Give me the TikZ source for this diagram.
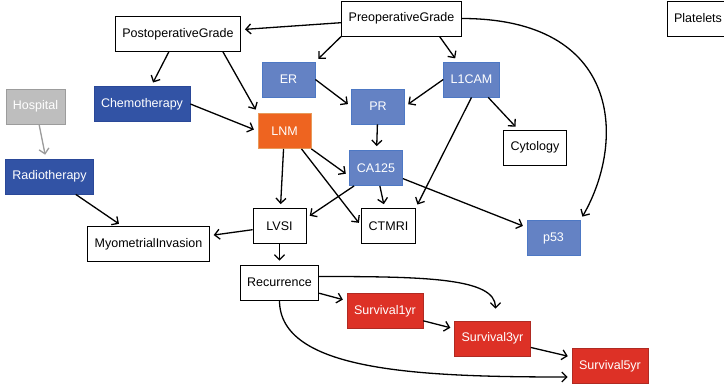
\documentclass[tikz,border=0pt]{standalone}
\usepackage{fontspec}
\setmainfont{Liberation Sans}
\usetikzlibrary{positioning,arrows.meta}

\definecolor{markerfill}{HTML}{6482C4}
\definecolor{markerline}{HTML}{4D78C4}
\definecolor{therapyfill}{HTML}{3253A5}
\definecolor{therapyline}{HTML}{2A4898}
\definecolor{lnmfill}{HTML}{EE6420}
\definecolor{lnmline}{HTML}{E89A5A}
\definecolor{survfill}{HTML}{DD3126}
\definecolor{survline}{HTML}{B02A22}
\definecolor{hospfill}{HTML}{BEBEBE}
\definecolor{hospline}{HTML}{9C9C9C}

\begin{document}
\begin{tikzpicture}[>={Straight Barb[length=5pt,width=10pt]},on grid,line width=1.3pt]
	\tikzstyle{var}=[rectangle,draw=black,line width=0.8pt,fill=white,minimum width=53pt,minimum height=35pt,inner xsep=7pt,font=\fontsize{12.5}{15}\selectfont]
	\tikzstyle{marker}=[var,draw=markerline,fill=markerfill,text=white]
	\tikzstyle{therapy}=[var,draw=therapyline,fill=therapyfill,text=white]
	\tikzstyle{lnm}=[var,draw=lnmline,fill=lnmfill,text=white]
	\tikzstyle{survival}=[var,draw=survline,fill=survfill,text=white]
	\tikzstyle{hosp}=[var,draw=hospline,fill=hospfill,text=white]

	\useasboundingbox (0,0) rectangle (724pt,-386pt);

	\node[var] (PRE) at (401.5pt,-18.5pt) {PreoperativeGrade};
	\node[var] (POST) [below left=15.5pt and 223.5pt of PRE] {PostoperativeGrade};
	\node[var] (PLAT) [right=296.5pt of PRE] {Platelets};
	\node[marker] (ER) [below left=61pt and 113pt of PRE] {ER};
	\node[marker] (L1CAM) [right=183pt of ER] {L1CAM};
	\node[marker] (PR) [below right=27pt and 89.5pt of ER] {PR};
	\node[therapy] (CHEMO) [below left=70pt and 36pt of POST] {Chemotherapy};
	\node[hosp] (HOSP) [below left=2.5pt and 106.5pt of CHEMO] {Hospital};
	\node[lnm] (LNM) [below left=51.5pt and 4pt of ER] {LNM};
	\node[var] (CYTO) [below right=68pt and 63.5pt of L1CAM] {Cytology};
	\node[marker] (CA125) [below left=61.5pt and 2pt of PR] {CA125};
	\node[therapy] (RADIO) [below right=70pt and 14pt of HOSP] {Radiotherapy};
	\node[var] (LVSI) [below left=95pt and 5pt of LNM] {LVSI};
	\node[var] (MYO) [below left=18pt and 131pt of LVSI] {MyometrialInvasion};
	\node[var] (CTMRI) [right=109pt of LVSI] {CTMRI};
	\node[marker] (P53) [below right=12pt and 165pt of CTMRI] {p53};
	\node[var] (REC) [below=56.5pt of LVSI] {Recurrence};
	\node[survival] (S1) [below right=28.5pt and 105.5pt of REC] {Survival1yr};
	\node[survival] (S3) [below right=27.5pt and 107.5pt of S1] {Survival3yr};
	\node[survival] (S5) [below right=27.5pt and 117.5pt of S3] {Survival5yr};

	\path[->,shorten >=4pt]
		(PRE) edge (POST)
		(PRE.south west) edge (ER.north east)
		([xshift=38pt]PRE.south) edge ([xshift=-14pt]L1CAM.north)
		(PRE) edge[out=0,in=60,out looseness=1.75,in looseness=1] (P53.north east)
		(POST) edge (CHEMO)
		([xshift=45pt]POST.south) edge (LNM.north west)
		(CHEMO.east) edge (LNM.west)
		(ER.east) edge (PR.west)
		(L1CAM.west) edge (PR.east)
		(L1CAM) edge (CYTO)
		(L1CAM.south) edge (CTMRI.north east)
		(PR) edge (CA125)
		(LNM.south east) edge ([yshift=-8pt]CA125.west)
		(LNM) edge (LVSI)
		([xshift=17pt]LNM.south) edge (CTMRI.west)
		([xshift=5pt]CA125.south west) edge ([yshift=8pt]LVSI.east)
		(CA125) edge (CTMRI)
		(CA125) edge (P53)
		(RADIO) edge (MYO)
		(LVSI) edge (MYO)
		(LVSI) edge (REC)
		(REC) edge (S1)
		([yshift=6pt]REC.east) edge[out=0,in=90,out looseness=1.5,in looseness=0.6,shorten >=12pt] ([xshift=3pt]S3.north)
		(REC) edge[out=-90,in=180,out looseness=0.6,in looseness=1.3] ([yshift=-11pt]S5.west)
		(S1) edge (S3)
		(S3) edge (S5);
	\path[->,shorten >=4pt,draw=hospline] (HOSP) edge (RADIO);

\end{tikzpicture}
\end{document}
